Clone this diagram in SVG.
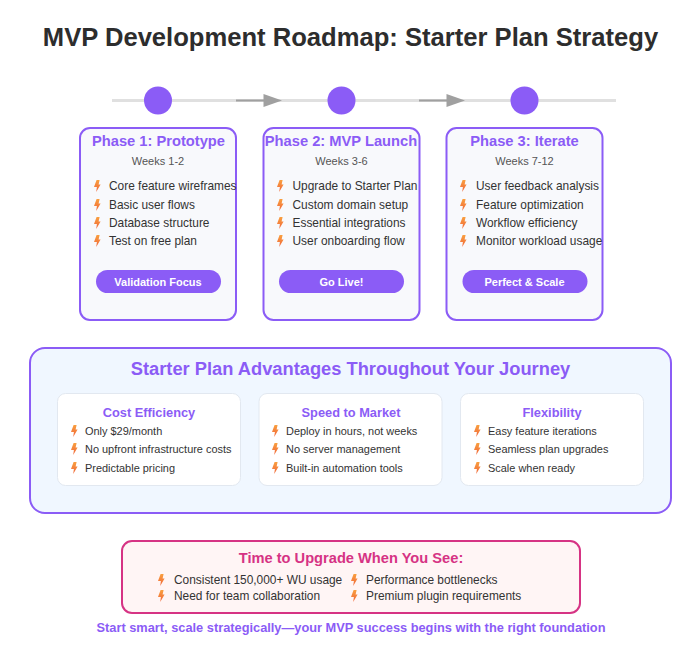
<svg xmlns="http://www.w3.org/2000/svg" width="699" height="647" viewBox="0 0 699 647">
<style>
text{font-family:"Liberation Sans",Arial,sans-serif}
.t{font-size:25.600px;font-weight:700;fill:#2d2d2d;text-anchor:middle}
.card{fill:#f8f9fc;stroke:#8b5cf6;stroke-width:2}
.ph{font-size:14.700px;font-weight:700;fill:#8b5cf6;text-anchor:middle}
.wk{font-size:11px;fill:#555;text-anchor:middle}
.li{font-size:11.900px;fill:#333}
.pill{fill:#8b5cf6}
.pt{font-size:11px;font-weight:700;fill:#fff;text-anchor:middle}
.h2{font-size:18.300px;font-weight:700;fill:#8b5cf6;text-anchor:middle}
.sub{fill:#fff;stroke:#e2e8f0;stroke-width:1}
.h3{font-size:12.800px;font-weight:700;fill:#8b5cf6;text-anchor:middle}
.s{font-size:10.950px;fill:#333}
.b{fill:url(#g)}
.dot{fill:#8b5cf6}
</style>
<defs>
<linearGradient id="g" x1="0" y1="0" x2="0" y2="1"><stop offset="0" stop-color="#f9a03f"/><stop offset="1" stop-color="#f0653a"/></linearGradient>
<path id="bolt" class="b" d="M-0.400-6 L2.600-6 L1.600-1.500 L3.600-1.500 L-0.800 6 L-0.100 1 L-3 1Z"/>
</defs>
<rect width="699" height="647" fill="#fff"/>
<text class="t" x="350.500" y="46">MVP Development Roadmap: Starter Plan Strategy</text>
<g id="connectors">
<path d="M112 100.500H616" stroke="#e0e0e0" stroke-width="3" fill="none"/>
<path d="M236 100.500H264" stroke="#a0a0a0" stroke-width="2" fill="none"/>
<path d="M263.500 94L282 100.500L263.500 107Z" fill="#a0a0a0"/>
<path d="M419 100.500H447" stroke="#a0a0a0" stroke-width="2" fill="none"/>
<path d="M446.500 94L465 100.500L446.500 107Z" fill="#a0a0a0"/>
</g>
<g id="dot1"><circle class="dot" cx="158" cy="100.500" r="14"/></g>
<g id="dot2"><circle class="dot" cx="341.500" cy="100.500" r="14"/></g>
<g id="dot3"><circle class="dot" cx="524.500" cy="100.500" r="14"/></g>
<g id="phase1">
<rect class="card" x="80" y="128" width="156" height="192" rx="10"/>
<text class="ph" x="158.500" y="146">Phase 1: Prototype</text>
<text class="wk" x="158" y="165">Weeks 1-2</text>
<use href="#bolt" x="97" y="186"/><text class="li" x="109" y="190">Core feature wireframes</text>
<use href="#bolt" x="97" y="205"/><text class="li" x="109" y="209">Basic user flows</text>
<use href="#bolt" x="97" y="223"/><text class="li" x="109" y="227">Database structure</text>
<use href="#bolt" x="97" y="241"/><text class="li" x="109" y="245">Test on free plan</text>
<rect class="pill" x="96" y="270" width="125" height="23" rx="11.500"/>
<text class="pt" x="158" y="286">Validation Focus</text>
</g>
<g id="phase2">
<rect class="card" x="263.500" y="128" width="156" height="192" rx="10"/>
<text class="ph" x="341" y="146">Phase 2: MVP Launch</text>
<text class="wk" x="341.500" y="165">Weeks 3-6</text>
<use href="#bolt" x="280" y="186"/><text class="li" x="292.500" y="190">Upgrade to Starter Plan</text>
<use href="#bolt" x="280" y="205"/><text class="li" x="292.500" y="209">Custom domain setup</text>
<use href="#bolt" x="280" y="223"/><text class="li" x="292.500" y="227">Essential integrations</text>
<use href="#bolt" x="280" y="241"/><text class="li" x="292.500" y="245">User onboarding flow</text>
<rect class="pill" x="279" y="270" width="125" height="23" rx="11.500"/>
<text class="pt" x="341.500" y="286">Go Live!</text>
</g>
<g id="phase3">
<rect class="card" x="446.500" y="128" width="156" height="192" rx="10"/>
<text class="ph" x="524.500" y="146">Phase 3: Iterate</text>
<text class="wk" x="524.500" y="165">Weeks 7-12</text>
<use href="#bolt" x="463" y="186"/><text class="li" x="476" y="190">User feedback analysis</text>
<use href="#bolt" x="463" y="205"/><text class="li" x="476" y="209">Feature optimization</text>
<use href="#bolt" x="463" y="223"/><text class="li" x="476" y="227">Workflow efficiency</text>
<use href="#bolt" x="463" y="241"/><text class="li" x="476" y="245">Monitor workload usage</text>
<rect class="pill" x="462.500" y="270" width="125" height="23" rx="11.500"/>
<text class="pt" x="524.500" y="286">Perfect &amp; Scale</text>
</g>
<g id="advantages">
<rect x="30" y="348" width="641" height="165" rx="15" fill="#f0f7ff" stroke="#8b5cf6" stroke-width="2"/>
<text class="h2" x="350.500" y="375">Starter Plan Advantages Throughout Your Journey</text>
</g>
<g id="cost">
<rect class="sub" x="57.500" y="393.500" width="183" height="92" rx="8"/>
<text class="h3" x="149" y="417">Cost Efficiency</text>
<use href="#bolt" x="74" y="431"/><text class="s" x="85" y="435">Only $29/month</text>
<use href="#bolt" x="74" y="449"/><text class="s" x="85" y="453">No upfront infrastructure costs</text>
<use href="#bolt" x="74" y="468"/><text class="s" x="85" y="472">Predictable pricing</text>
</g>
<g id="speed">
<rect class="sub" x="259" y="393.500" width="183" height="92" rx="8"/>
<text class="h3" x="351" y="417">Speed to Market</text>
<use href="#bolt" x="275" y="431"/><text class="s" x="286" y="435">Deploy in hours, not weeks</text>
<use href="#bolt" x="275" y="449"/><text class="s" x="286" y="453">No server management</text>
<use href="#bolt" x="275" y="468"/><text class="s" x="286" y="472">Built-in automation tools</text>
</g>
<g id="flex">
<rect class="sub" x="460.500" y="393.500" width="183" height="92" rx="8"/>
<text class="h3" x="552" y="417">Flexibility</text>
<use href="#bolt" x="477" y="431"/><text class="s" x="488" y="435">Easy feature iterations</text>
<use href="#bolt" x="477" y="449"/><text class="s" x="488" y="453">Seamless plan upgrades</text>
<use href="#bolt" x="477" y="468"/><text class="s" x="488" y="472">Scale when ready</text>
</g>
<g id="upgrade">
<rect x="122" y="541" width="458" height="72" rx="10" fill="#fff5f5" stroke="#d63384" stroke-width="2"/>
<text x="351" y="563" font-size="14.650" font-weight="700" fill="#d63384" text-anchor="middle">Time to Upgrade When You See:</text>
<use href="#bolt" x="161" y="580"/><text class="li" x="174" y="584">Consistent 150,000+ WU usage</text>
<use href="#bolt" x="161" y="596"/><text class="li" x="174" y="600">Need for team collaboration</text>
<use href="#bolt" x="354" y="580"/><text class="li" x="366" y="584">Performance bottlenecks</text>
<use href="#bolt" x="354" y="596"/><text class="li" x="366" y="600">Premium plugin requirements</text>
</g>
<text x="351" y="632" font-size="12.800" font-weight="700" fill="#8b5cf6" text-anchor="middle">Start smart, scale strategically—your MVP success begins with the right foundation</text>
</svg>
